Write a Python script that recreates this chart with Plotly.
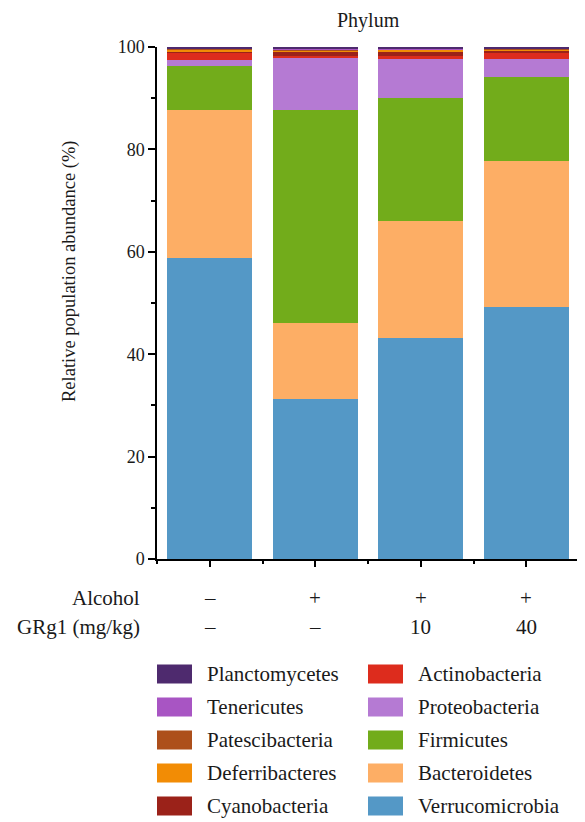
import plotly.graph_objects as go

groups = [0, 1, 2, 3]
alcohol_labels = ["–", "+", "+", "+"]
grg1_labels = ["–", "–", "10", "40"]

# stacking order bottom -> top
phyla = ["Verrucomicrobia", "Bacteroidetes", "Firmicutes", "Proteobacteria",
         "Actinobacteria", "Cyanobacteria", "Deferribacteres", "Patescibacteria",
         "Tenericutes", "Planctomycetes"]

verrucomicrobia = [58.8, 31.3, 43.2, 49.2]
bacteroidetes   = [28.9, 14.8, 22.8, 28.5]
firmicutes      = [8.5, 41.6, 24.0, 16.4]
proteobacteria  = [1.3, 10.3, 7.7, 3.6]
actinobacteria  = [1.5, 0.2, 0.6, 1.1]
cyanobacteria   = [0.1, 1.0, 0.8, 0.4]
deferribacteres = [0.4, 0.15, 0.4, 0.4]
patescibacteria = [0.15, 0.15, 0.1, 0.1]
tenericutes     = [0.1, 0.1, 0.1, 0.05]
planctomycetes  = [0.25, 0.4, 0.3, 0.25]

values = {
    "Verrucomicrobia": verrucomicrobia, "Bacteroidetes": bacteroidetes,
    "Firmicutes": firmicutes, "Proteobacteria": proteobacteria,
    "Actinobacteria": actinobacteria, "Cyanobacteria": cyanobacteria,
    "Deferribacteres": deferribacteres, "Patescibacteria": patescibacteria,
    "Tenericutes": tenericutes, "Planctomycetes": planctomycetes,
}
colors = {
    "Verrucomicrobia": "#5498c6", "Bacteroidetes": "#fdae65",
    "Firmicutes": "#72ac1b", "Proteobacteria": "#b57ad3",
    "Actinobacteria": "#dd2c1d", "Cyanobacteria": "#9b2219",
    "Deferribacteres": "#f28c05", "Patescibacteria": "#ad4f1b",
    "Tenericutes": "#a855c3", "Planctomycetes": "#4e2a6e",
}
legend_left = ["Planctomycetes", "Tenericutes", "Patescibacteria", "Deferribacteres", "Cyanobacteria"]
legend_right = ["Actinobacteria", "Proteobacteria", "Firmicutes", "Bacteroidetes", "Verrucomicrobia"]

FONT = "Liberation Serif, Times New Roman, serif"
TXT = "#1a1a1a"
OFF = 8                      # page body margin
W, H = 585 - OFF, 822 - OFF
# plot area in screen pixels
SX0, SX1, SY0, SY1 = 157, 579, 47, 559
L, R, T, B = SX0 - OFF, W - (SX1 - OFF), SY0 - OFF, H - (SY1 - OFF)
PW, PH = SX1 - SX0, SY1 - SY0

def px(x):
    return (x - SX0) / PW

def py(y):
    return (SY1 - y) / PH

fig = go.Figure()
for name in phyla:
    fig.add_trace(go.Bar(x=groups, y=values[name], name=name, width=0.81,
                         marker=dict(color=colors[name], line=dict(width=0)),
                         showlegend=False))

fig.update_layout(
    width=W, height=H, barmode="stack",
    margin=dict(l=L, r=R, t=T, b=B),
    plot_bgcolor="white", paper_bgcolor="white",
    font=dict(family=FONT, size=21, color=TXT),
    showlegend=False,
)
fig.update_xaxes(range=[-0.5, 3.5], tickvals=groups, ticktext=["", "", "", ""],
                 ticks="outside", ticklen=6, tickwidth=1.5, tickcolor="black",
                 showline=True, linecolor="black", linewidth=1.5,
                 showgrid=False, zeroline=False,
                 minor=dict(ticks="outside", tick0=0.5, dtick=1, ticklen=3,
                            tickwidth=1.5, tickcolor="black"))
fig.update_yaxes(range=[0, 100], tickvals=[0, 20, 40, 60, 80, 100],
                 ticks="outside", ticklen=7, tickwidth=1.5, tickcolor="black",
                 showline=True, linecolor="black", linewidth=1.5,
                 showgrid=False, zeroline=False,
                 tickfont=dict(size=18, family=FONT, color=TXT),
                 minor=dict(ticks="outside", tick0=10, dtick=20, ticklen=4,
                            tickwidth=1.5, tickcolor="black"))

ann = []
ann.append(dict(text="Relative population abundance (%)", x=px(69), y=py(272),
                xref="paper", yref="paper", textangle=-90, showarrow=False,
                xanchor="center", yanchor="middle",
                font=dict(size=18.5, family=FONT, color=TXT)))
ann.append(dict(text="Phylum", x=0.5, y=py(20), xref="paper", yref="paper",
                showarrow=False, xanchor="center", yanchor="middle",
                font=dict(size=20, family=FONT, color=TXT)))
ann.append(dict(text="Alcohol", x=px(142), y=py(598), xref="paper", yref="paper",
                showarrow=False, xanchor="right", yanchor="middle"))
ann.append(dict(text="GRg1 (mg/kg)", x=px(142), y=py(627), xref="paper", yref="paper",
                showarrow=False, xanchor="right", yanchor="middle"))
for g, a, r in zip(groups, alcohol_labels, grg1_labels):
    ann.append(dict(text=a, x=g, y=py(598), xref="x", yref="paper",
                    showarrow=False, xanchor="center", yanchor="middle"))
    ann.append(dict(text=r, x=g, y=py(627), xref="x", yref="paper",
                    showarrow=False, xanchor="center", yanchor="middle"))

shapes = []
row_y = [674, 707, 740, 773, 806]
for col_names, sx in ((legend_left, 157), (legend_right, 368)):
    for name, yy in zip(col_names, row_y):
        shapes.append(dict(type="rect", xref="paper", yref="paper",
                           x0=px(sx), x1=px(sx + 35), y0=py(yy - 9.5), y1=py(yy + 9.5),
                           fillcolor=colors[name], line=dict(width=0)))
        ann.append(dict(text=name, x=px(sx + 48), y=py(yy), xref="paper", yref="paper",
                        showarrow=False, xanchor="left", yanchor="middle"))

fig.update_layout(annotations=ann, shapes=shapes)
fig.write_html("out.html")
